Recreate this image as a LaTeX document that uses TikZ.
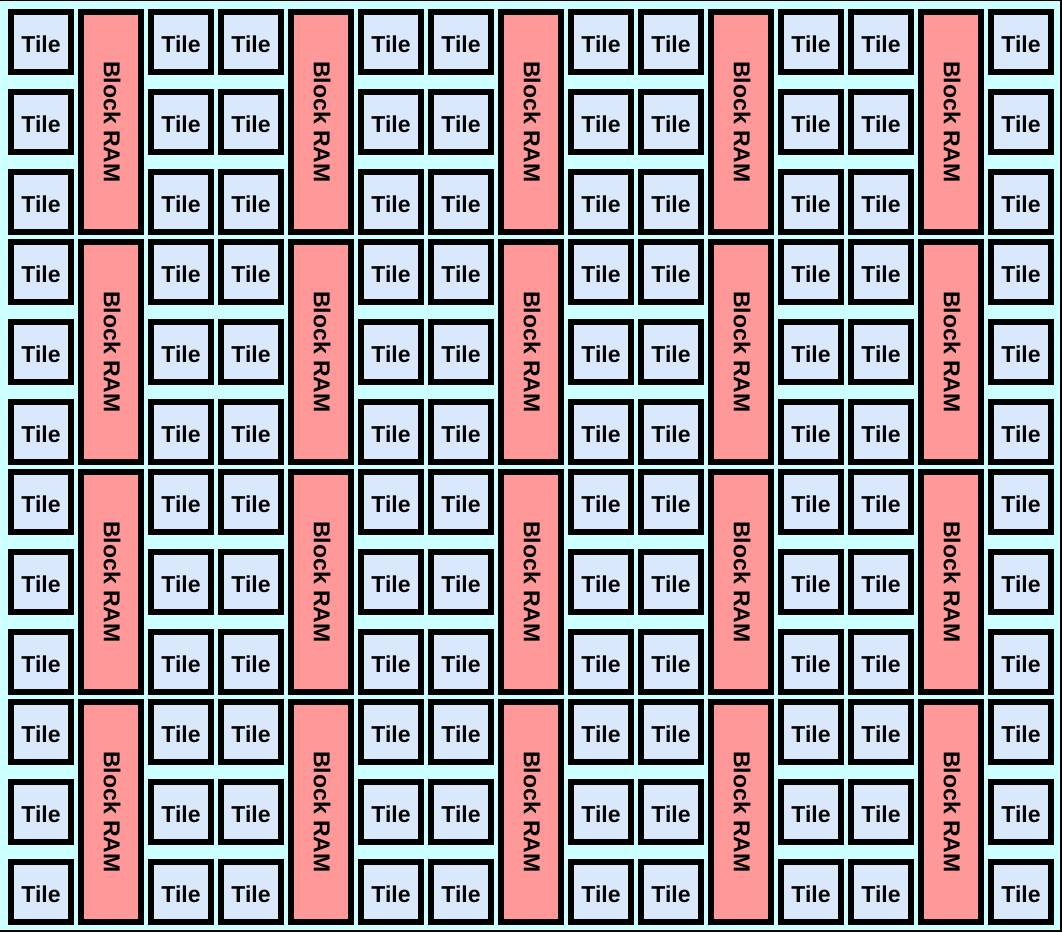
\documentclass[tikz,border=0pt]{standalone}
\usepackage{fontspec}
\setmainfont{Liberation Sans}
\definecolor{bgcyan}{HTML}{CCFFFF}
\definecolor{tileblue}{HTML}{DAE8FC}
\definecolor{brampink}{HTML}{FF9999}
\begin{document}
\begin{tikzpicture}[x=1pt,y=-1pt,
  tilebox/.style={draw=black,line width=6pt,fill=tileblue,minimum width=60pt,minimum height=60pt,inner sep=0pt},
  tiletext/.style={font=\fontsize{23}{23}\selectfont\bfseries,inner sep=0pt},
  brambox/.style={draw=black,line width=6pt,fill=brampink,minimum width=60pt,minimum height=220pt,inner sep=0pt},
  bramtext/.style={rotate=-90,font=\fontsize{23}{23}\selectfont\bfseries,inner sep=0pt}]
\useasboundingbox (0,0) rectangle (1062,932);
\fill[bgcyan] (0,0) rectangle (1062,932);
\draw[line width=2.5pt] (0,0) -- (1060.75,0) -- (1060.75,930.75) -- (0,930.75);
\foreach \g in {0,1,2,3}{
  \foreach \i in {0,...,14}{
    \pgfmathtruncatemacro{\m}{mod(\i,3)}
    \pgfmathsetmacro{\cx}{41+70*\i}
    \ifnum\m=1
      \pgfmathsetmacro{\cy}{122+230*\g}
      \node[brambox] (b-\g-\i) at (\cx,\cy) {};
      \node[bramtext] (bt-\g-\i) at ([xshift=1pt]b-\g-\i.center) {Block RAM};
    \else
      \foreach \r in {0,1,2}{
        \pgfmathsetmacro{\cy}{42+230*\g+80*\r}
        \node[tilebox] (t-\g-\r-\i) at (\cx,\cy) {};
        \node[tiletext] (tt-\g-\r-\i) at ([yshift=-2pt]t-\g-\r-\i.center) {Tile};
      }
    \fi
  }
}
\end{tikzpicture}
\end{document}
